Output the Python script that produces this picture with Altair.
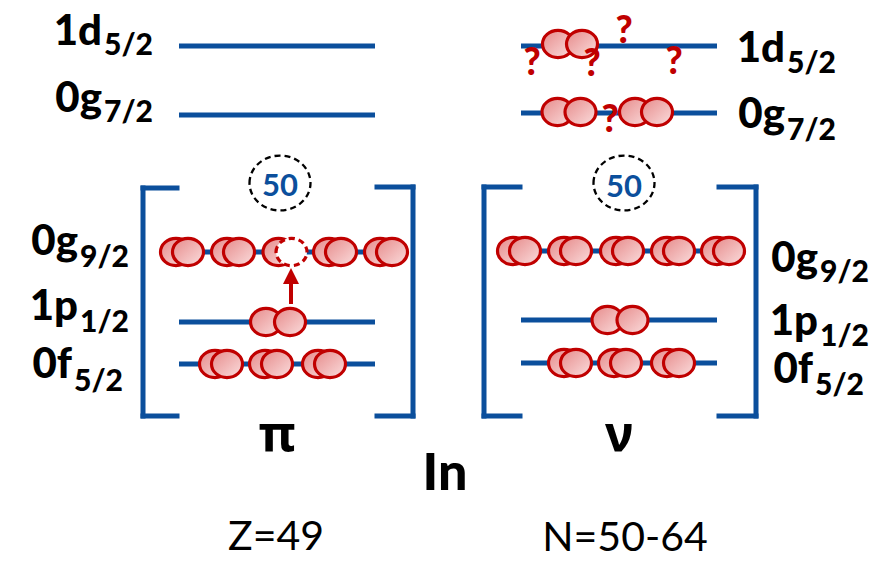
import altair as alt
import pandas as pd

# ---------------- data (image pixel coordinates) ----------------
BLUE = "#0b4f9c"
RED = "#c00000"

LEVEL_NAMES = ["1d", "0g", "0g", "1p", "0f"]
LEVEL_J = ["5/2", "7/2", "9/2", "1/2", "5/2"]

PROTON_LINE_Y = [46, 115, 252, 322, 364]
PROTON_LINE_X = [179, 375]
NEUTRON_LINE_Y = [46, 113, 251, 320, 363]
NEUTRON_LINE_X = [521, 717]

# nucleon pairs: level y, pair centre x, half spacing of the two circles
PROTON_PAIR_Y = [252, 252, 252, 252, 252, 322, 364, 364, 364]
PROTON_PAIR_X = [182, 233, 285, 335, 386, 278, 221, 271, 324]
PROTON_PAIR_HALF = [6, 6, 6.5, 6, 6, 12, 6, 6, 6]
HOLE_PAIR_INDEX = 2

NEUTRON_PAIR_Y = [44, 112, 112, 251, 251, 251, 251, 251, 320, 363, 363, 363]
NEUTRON_PAIR_X = [570, 569, 646, 519, 570, 622, 673, 723, 620, 570, 620, 673]
NEUTRON_PAIR_HALF = [12, 11.5, 11, 6, 6, 6, 6, 6, 12.5, 6, 6, 6]

# bracket segments x, x2, y, y2
BRACKET_X = [143, 143, 143, 413, 377, 377, 484, 484, 484, 756, 719, 719]
BRACKET_X2 = [143, 177, 177, 413, 413, 413, 484, 520, 520, 756, 756, 756]
BRACKET_Y = [188, 188, 416, 187, 187, 416, 187, 187, 416, 187, 187, 416]
BRACKET_Y2 = [416, 188, 416, 416, 187, 416, 416, 187, 416, 416, 187, 416]

# magic-number circles
SHELL_X = [280, 624]
SHELL_Y = [183, 183]
SHELL_TEXT = ["50", "50"]
SHELL_TEXT_BASE = [196, 197]

# level labels
LEFT_MAIN_END = [102, 102, 78, 78, 72]
LEFT_MAIN_BASE = [45, 112, 255, 320, 378]
LEFT_SUB_BASE = [55, 122, 267, 332, 391]
RIGHT_MAIN_END = [785, 785, 818, 818, 813]
RIGHT_MAIN_BASE = [62, 128, 272, 335, 383]
RIGHT_SUB_BASE = [73, 140, 282, 346, 395]

# question marks
Q_X = [532, 624, 592, 674, 610]
Q_BASE = [75, 43, 76, 74, 132]

# arrow
ARROW_X = [291]
ARROW_Y_FROM = [304]
ARROW_Y_TO = [283]
ARROW_HEAD_Y = [276]

# other titles
GREEK = ["π", "ν"]
GREEK_X = [277, 619]
GREEK_BASE = [452, 452]
BIG_TEXT = ["In"]
BIG_X = [445]
BIG_BASE = [490]
NOTE_TEXT = ["Z=49", "N=50-64"]
NOTE_X = [276, 625]
NOTE_BASE = [550, 551]

# ---------------- scales ----------------
W, H = 871, 552
xs = alt.Scale(domain=[8, 8 + W], nice=False, zero=False)
ys = alt.Scale(domain=[8, 8 + H], nice=False, zero=False, reverse=True)


def X(f):
    return alt.X(f, type="quantitative", scale=xs, axis=None)


def Y(f):
    return alt.Y(f, type="quantitative", scale=ys, axis=None)


# ---------------- tables ----------------
lines = pd.DataFrame({
    "x": [PROTON_LINE_X[0]] * 5 + [NEUTRON_LINE_X[0]] * 5,
    "x2": [PROTON_LINE_X[1]] * 5 + [NEUTRON_LINE_X[1]] * 5,
    "y": PROTON_LINE_Y + NEUTRON_LINE_Y,
})
brackets = pd.DataFrame({"x": BRACKET_X, "x2": BRACKET_X2, "y": BRACKET_Y, "y2": BRACKET_Y2})

nuc_rows = []
hole_rows = []
order = 0
for i, (py, px, h) in enumerate(zip(PROTON_PAIR_Y, PROTON_PAIR_X, PROTON_PAIR_HALF)):
    nuc_rows.append({"x": px - h, "y": py, "o": order}); order += 1
    if i == HOLE_PAIR_INDEX:
        hole_rows.append({"x": px + h, "y": py})
    else:
        nuc_rows.append({"x": px + h, "y": py, "o": order}); order += 1
for py, px, h in zip(NEUTRON_PAIR_Y, NEUTRON_PAIR_X, NEUTRON_PAIR_HALF):
    nuc_rows.append({"x": px - h, "y": py, "o": order}); order += 1
    nuc_rows.append({"x": px + h, "y": py, "o": order}); order += 1
nucleons = pd.DataFrame(nuc_rows)
holes = pd.DataFrame(hole_rows)

ELLIPSE = "M -1 0 A 1 0.88 0 1 1 1 0 A 1 0.88 0 1 1 -1 0 Z"
SHELL_ELLIPSE = "M -1 0 A 1 0.9 0 1 1 1 0 A 1 0.9 0 1 1 -1 0 Z"
TRI = "M 0 -1 L 1 1 L -1 1 Z"

grad = alt.LinearGradient(
    gradient="linear",
    stops=[alt.GradientStop(offset=0, color="#e68a8a"),
           alt.GradientStop(offset=1, color="#fbdede")],
    x1=0, y1=0, x2=1, y2=1,
)

# ---------------- layers ----------------
line_layer = alt.Chart(lines).mark_rule(color=BLUE, strokeWidth=5, strokeCap="butt").encode(
    x=X("x"), x2="x2", y=Y("y"))

bracket_layer = alt.Chart(brackets).mark_rule(color=BLUE, strokeWidth=5, strokeCap="square").encode(
    x=X("x"), x2="x2", y=Y("y"), y2="y2")

nucleon_layer = alt.Chart(nucleons).mark_point(
    shape=ELLIPSE, filled=True, fill=grad, stroke=RED, strokeWidth=3.2, size=961, opacity=1
).encode(x=X("x"), y=Y("y"), order="o:Q")

hole_layer = alt.Chart(holes).mark_point(
    shape=ELLIPSE, filled=True, fill="white", stroke=RED, strokeWidth=3.2, strokeDash=[6, 4],
    size=961, opacity=1
).encode(x=X("x"), y=Y("y"))

arrow_df = pd.DataFrame({"x": ARROW_X, "y": ARROW_Y_FROM, "y2": ARROW_Y_TO, "hy": ARROW_HEAD_Y})
arrow_shaft = alt.Chart(arrow_df).mark_rule(color=RED, strokeWidth=4).encode(
    x=X("x"), y=Y("y"), y2="y2")
arrow_head = alt.Chart(arrow_df).mark_point(
    shape=TRI, filled=True, fill=RED, size=256, opacity=1, strokeWidth=0
).encode(x=X("x"), y=Y("hy"))

shell_df = pd.DataFrame({"x": SHELL_X, "y": SHELL_Y, "t": SHELL_TEXT, "tb": SHELL_TEXT_BASE})
shell_ring = alt.Chart(shell_df).mark_point(
    shape=SHELL_ELLIPSE, filled=False, stroke="black", strokeWidth=2.3, strokeDash=[6, 4],
    size=3721, opacity=1
).encode(x=X("x"), y=Y("y"))
shell_text = alt.Chart(shell_df).mark_text(
    font="Lato", fontWeight="bold", fontSize=31, color=BLUE, align="center", baseline="alphabetic"
).encode(x=X("x"), y=Y("tb"), text="t:N")


def text_layer(xv, yv, tv, size, align, weight="bold", color="black", font="Lato"):
    df = pd.DataFrame({"x": xv, "y": yv, "t": tv})
    return alt.Chart(df).mark_text(
        font=font, fontWeight=weight, fontSize=size, color=color, align=align,
        baseline="alphabetic"
    ).encode(x=X("x"), y=Y("y"), text="t:N")


left_main = text_layer(LEFT_MAIN_END, LEFT_MAIN_BASE, LEVEL_NAMES, 42, "right", weight=900)
left_sub = text_layer([v + 2 for v in LEFT_MAIN_END], LEFT_SUB_BASE, LEVEL_J, 30, "left", weight=900)
right_main = text_layer(RIGHT_MAIN_END, RIGHT_MAIN_BASE, LEVEL_NAMES, 42, "right", weight=900)
right_sub = text_layer([v + 2 for v in RIGHT_MAIN_END], RIGHT_SUB_BASE, LEVEL_J, 30, "left", weight=900)
qmarks = text_layer(Q_X, Q_BASE, ["?"] * len(Q_X), 37, "center", color=RED, weight=900)
greek = text_layer(GREEK_X, GREEK_BASE, GREEK, 50, "center", font="Noto Sans")
big = text_layer(BIG_X, BIG_BASE, BIG_TEXT, 52, "center", weight=900)
notes = text_layer(NOTE_X, NOTE_BASE, NOTE_TEXT, 41, "center", weight="normal")

chart = alt.layer(
    line_layer, bracket_layer, nucleon_layer, hole_layer, arrow_shaft, arrow_head,
    shell_ring, shell_text, left_main, left_sub, right_main, right_sub, qmarks,
    greek, big, notes,
).properties(
    width=W, height=H, padding=0, autosize=alt.AutoSizeParams(type="none"),
    background="white",
).configure_view(stroke=None)

chart.save("out.html", embed_options={"renderer": "svg", "actions": False})
